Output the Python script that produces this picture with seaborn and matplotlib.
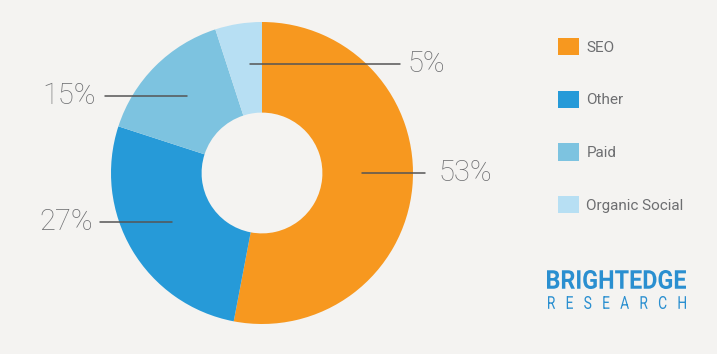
import matplotlib
matplotlib.use("Agg")
import matplotlib.pyplot as plt
from matplotlib.patches import Patch, PathPatch
from matplotlib.textpath import TextPath
from matplotlib.font_manager import FontProperties
from matplotlib.transforms import Affine2D
import seaborn as sns

sns.set_style("white")
plt.rcParams['font.family'] = ['Roboto', 'DejaVu Sans']

channels = ["SEO", "Other", "Paid", "Organic Social"]
shares = [53, 27, 15, 5]
colors = ["#f7981f", "#269ad8", "#7dc3e0", "#b7dff3"]
bg = "#f4f3f1"
text_grey = "#6d6e71"
logo_blue = "#2a8fd0"

fig = plt.figure(figsize=(7.17, 3.54), dpi=100, facecolor=bg)

# overlay axes in pixel units for the logo
lax = fig.add_axes([0, 0, 1, 1])
lax.set_xlim(0, 717)
lax.set_ylim(354, 0)
lax.axis("off")

# donut axes: centre (262,173) px, radius 151 px
ax = fig.add_axes([111 / 717, 30 / 354, 302 / 717, 302 / 354])
ax.set_facecolor(bg)
wedges, _ = ax.pie(shares, colors=colors, startangle=90, counterclock=False,
                   radius=1, wedgeprops=dict(width=0.6, linewidth=0))
ax.set_xlim(-1, 1)
ax.set_ylim(-1, 1)
ax.set_aspect("equal")
ax.axis("off")

# callout lines and labels (data units of the donut axes)
callouts = {
    "SEO": ((0.66, 1.08), 0.0, 1.17, "left"),
    "Other": ((-0.596, -1.073), -0.325, -1.12, "right"),
    "Paid": ((-0.497, -1.04), 0.51, -1.10, "right"),
    "Organic Social": ((-0.079, 0.914), 0.722, 0.965, "left"),
}
for name, share in zip(channels, shares):
    (x0, x1), y, tx, ha = callouts[name]
    ax.plot([x0, x1], [y, y], color="#555555", lw=1.1, clip_on=False)
    ax.text(tx, y, f"{share}%", ha=ha, va="center", fontsize=21,
            fontweight="light", color=text_grey)

handles = [Patch(facecolor=c, edgecolor="none") for c in colors]
fig.legend(handles, channels, loc="upper left", bbox_to_anchor=(558 / 717, 1 - 38 / 354),
           frameon=False, fontsize=11, labelspacing=2.33, handlelength=1.35,
           handleheight=1.35, handletextpad=0.5, borderpad=0, borderaxespad=0,
           labelcolor=text_grey)


def logo_word(text, x0, x1, top, bottom, weight):
    path = TextPath((0, 0), text, size=1, prop=FontProperties(family="Roboto", weight=weight))
    ext = path.get_extents()
    sx = (x1 - x0) / ext.width
    sy = (bottom - top) / ext.height
    tr = Affine2D().translate(-ext.x0, -ext.y0).scale(sx, -sy).translate(x0, bottom)
    lax.add_patch(PathPatch(tr.transform_path(path), facecolor=logo_blue,
                            edgecolor="none"))


logo_word("BRIGHTEDGE", 547, 686, 270, 289, "bold")
logo_word("R   E   S   E   A   R   C   H", 548, 686, 296, 309, "normal")

fig.savefig("out.png", dpi=100, facecolor=bg)
